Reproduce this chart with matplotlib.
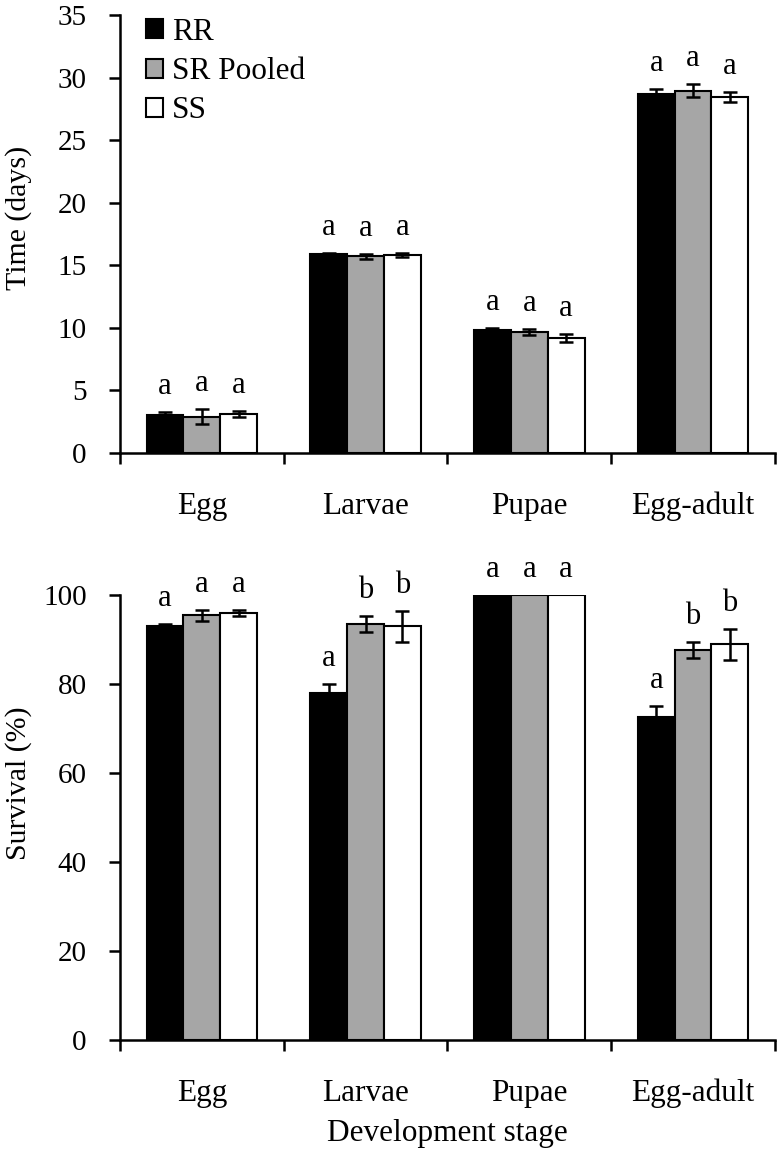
import numpy as np
import matplotlib.pyplot as plt
from matplotlib.patches import Patch

plt.rcParams['font.family'] = ['Liberation Serif', 'DejaVu Serif']
plt.rcParams['font.size'] = 21

# ---------- data ---------- #

stages = ['Egg', 'Larvae', 'Pupae', 'Egg-adult']
groups = ['RR', 'SR Pooled', 'SS']
colors = ['black', '#a6a6a6', 'white']

time_rr = [3.0, 15.9, 9.8, 28.7]
time_sr = [2.9, 15.7, 9.65, 28.95]
time_ss = [3.1, 15.8, 9.2, 28.45]
time_err_rr = [0.25, 0.1, 0.17, 0.35]
time_err_sr = [0.6, 0.2, 0.23, 0.5]
time_err_ss = [0.25, 0.15, 0.3, 0.38]
time_letters = [['a', 'a', 'a'], ['a', 'a', 'a'], ['a', 'a', 'a'], ['a', 'a', 'a']]

surv_rr = [93.0, 78.0, 100.0, 72.5]
surv_sr = [95.4, 93.4, 100.0, 87.6]
surv_ss = [95.9, 93.0, 100.0, 88.9]
surv_err_rr = [0.5, 1.9, 0.0, 2.6]
surv_err_sr = [1.3, 1.8, 0.0, 1.8]
surv_err_ss = [0.7, 3.5, 0.0, 3.4]
surv_letters = [['a', 'a', 'a'], ['a', 'b', 'b'], ['a', 'a', 'a'], ['a', 'b', 'b']]

# ---------- plotting ---------- #

fig = plt.figure(figsize=(7.8, 11.54), dpi=100)
ax1 = fig.add_axes([0.1538, 0.6075, 0.8397, 0.3795])
ax2 = fig.add_axes([0.1538, 0.0988, 0.8397, 0.3856])

x = np.arange(len(stages))
w = 0.225


def draw(ax, vals, errs, letters, ymax, step):
	for i, (v, e) in enumerate(zip(vals, errs)):
		pos = x + (i - 1) * w
		ax.bar(pos, v, w, color=colors[i], edgecolor='black', linewidth=1.5, zorder=2)
		e = np.array(e)
		mask = e > 0
		ax.errorbar(pos[mask], np.array(v)[mask], yerr=e[mask], fmt='none',
			ecolor='black', elinewidth=1.8, capsize=5, capthick=1.8, zorder=3)
		for j in range(len(stages)):
			ax.annotate(letters[j][i], (pos[j], v[j] + e[j]), xytext=(0, 13),
				textcoords='offset points', ha='center', va='baseline',
				fontsize=22, annotation_clip=False)
	ax.set_xlim(-0.5, len(stages) - 0.5)
	ax.set_ylim(0, ymax)
	ax.set_yticks(np.arange(0, ymax + 0.1, step))
	ax.set_xticks(x)
	ax.set_xticklabels(stages, fontsize=22.5)
	ax.set_xticks(np.arange(-0.5, len(stages), 1), minor=True)
	ax.tick_params(axis='x', which='major', length=0, pad=28)
	ax.tick_params(axis='x', which='minor', length=8, width=1.8, direction='out')
	ax.tick_params(axis='y', length=8, width=1.8, pad=16)
	for s in ['top', 'right']:
		ax.spines[s].set_visible(False)
	for s in ['left', 'bottom']:
		ax.spines[s].set_linewidth(1.8)


draw(ax1, [time_rr, time_sr, time_ss], [time_err_rr, time_err_sr, time_err_ss],
	time_letters, 35, 5)
draw(ax2, [surv_rr, surv_sr, surv_ss], [surv_err_rr, surv_err_sr, surv_err_ss],
	surv_letters, 100, 20)

ax1.set_ylabel('Time (days)', fontsize=21.5)
ax1.yaxis.set_label_coords(-0.134, 0.537)
ax2.set_ylabel('Survival (%)', fontsize=21.5)
ax2.yaxis.set_label_coords(-0.134, 0.578)
ax2.set_xlabel('Development stage', fontsize=22.5, labelpad=8)

handles = [Patch(facecolor=c, edgecolor='black', linewidth=1.5) for c in colors]
ax1.legend(handles, groups, loc='upper left', bbox_to_anchor=(0.02, 1.022),
	frameon=False, handlelength=0.55, handleheight=0.55, handletextpad=0.3,
	labelspacing=0.33, fontsize=22.5, borderaxespad=0)

fig.savefig('out.png', dpi=100)
